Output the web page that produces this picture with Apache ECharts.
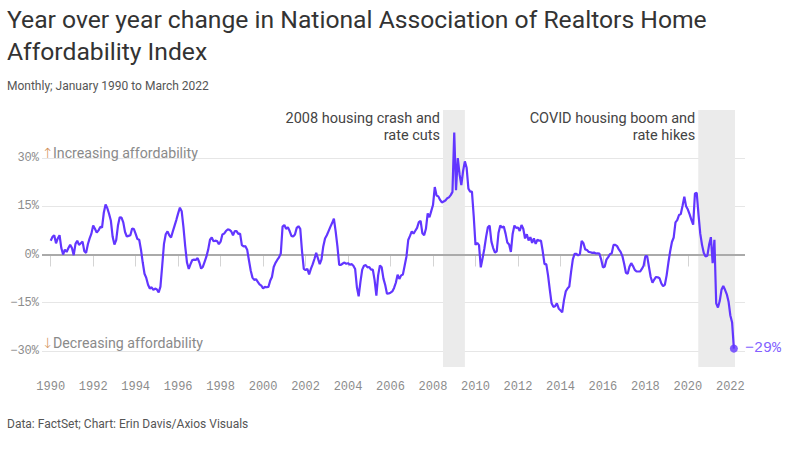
<!DOCTYPE html>
<html><head><meta charset="utf-8">
<script src="https://cdn.jsdelivr.net/npm/echarts@6/dist/echarts.min.js"></script>
<style>html,body{margin:0;padding:0;background:#fff}#c{width:802px;height:458px}</style>
</head><body><div id="c"></div>
<script>
// ---------- data ----------
const titleText = 'Year over year change in National Association of Realtors Home\nAffordability Index';
const subtitleText = 'Monthly; January 1990 to March 2022';
const sourceText = 'Data: FactSet; Chart: Erin Davis/Axios Visuals';
const startYear = 1990; // first month: January 1990
const yoyChange = [
  4.3, 5.5, 6.0, 3.5, 5.0, 6.0, 2.0, 0.0, 1.5, 0.8, 2.0, 3.0,            // 1990
  2.0, -0.2, 3.3, 4.3, 3.0, 3.5, 4.0, 1.0, 0.5, 3.2, 5.0, 6.5,           // 1991
  9.0, 8.0, 6.8, 7.5, 8.6, 8.4, 13.0, 15.6, 14.4, 12.6, 10.5, 5.5,       // 1992
  3.1, 4.5, 9.0, 11.6, 11.5, 10.0, 7.0, 5.6, 5.8, 6.0, 8.1, 7.9,         // 1993
  6.4, 4.8, 4.6, 1.5, -2.5, -6.0, -7.3, -9.4, -10.6, -10.2, -11.0, -10.6,// 1994
  -10.9, -11.8, -10.0, -3.5, 3.3, 6.3, 7.2, 6.0, 5.3, 7.2, 9.0, 10.8,    // 1995
  12.8, 14.6, 13.5, 8.5, 2.5, -2.5, -4.5, -3.0, -1.7, -1.6, -1.7, -1.1,  // 1996
  -2.5, -4.4, -3.8, -2.2, -0.6, 1.6, 4.6, 5.3, 4.1, 4.3, 4.2, 3.2,       // 1997
  4.0, 6.2, 6.5, 7.3, 7.8, 7.7, 7.2, 6.0, 7.3, 7.3, 6.4, 6.5,            // 1998
  2.9, 2.5, 2.6, 1.5, -1.8, -5.0, -7.2, -7.9, -7.7, -8.5, -9.3, -9.7,    // 1999
  -10.6, -10.1, -10.2, -10.1, -8.2, -7.0, -3.9, -2.6, -1.7, -0.9, 0.3, 8.7, // 2000
  9.2, 8.0, 8.5, 7.3, 5.8, 5.6, 6.2, 8.3, 8.8, 8.0, 1.0, -4.5,           // 2001
  -4.9, -4.5, -6.2, -4.5, -3.1, -1.4, 0.5, -1.2, -3.0, -1.5, 2.5, 5.0,   // 2002
  6.0, 7.3, 8.6, 9.8, 11.2, 7.2, 2.5, -3.2, -3.2, -2.8, -2.5, -2.9,      // 2003
  -2.7, -3.2, -3.0, -3.5, -4.5, -10.2, -13.0, -8.5, -4.7, -3.5, -3.3, -4.0, // 2004
  -3.9, -4.7, -4.7, -8.0, -12.8, -6.5, -3.4, -4.0, -7.5, -9.5, -12.2, -12.1, // 2005
  -11.9, -11.5, -10.4, -8.8, -6.3, -7.6, -6.5, -6.2, -3.4, -0.6, 4.5, 5.8, // 2006
  7.2, 6.5, 7.4, 8.3, 10.1, 10.5, 6.6, 6.0, 8.0, 12.8, 11.6, 13.5,       // 2007
  15.4, 21.0, 18.4, 18.1, 17.0, 16.2, 16.5, 16.8, 17.5, 17.8, 18.5, 19.5,// 2008
  38.0, 20.0, 30.0, 25.0, 21.6, 26.0, 29.0, 27.0, 20.5, 19.6, 19.6, 12.0,// 2009
  3.0, 3.6, 2.9, -4.0, -1.2, 1.8, 5.5, 8.5, 9.0, 4.0, 2.0, 0.6,          // 2010
  1.0, 6.7, 9.0, 8.4, 8.7, 6.5, 3.7, 3.1, 0.8, 6.4, 9.0, 8.3,            // 2011
  8.4, 7.3, 9.2, 8.0, 5.0, 6.3, 4.4, 5.4, 3.6, 5.0, 3.3, 4.6,            // 2012
  4.3, 4.3, 1.0, -3.0, -3.0, -6.5, -11.0, -15.2, -16.3, -16.1, -15.2, -16.8, // 2013
  -17.4, -18.0, -14.2, -11.5, -10.6, -10.0, -5.5, -1.5, 0.2, 0.2, -0.3, 0.1, // 2014
  4.2, 3.5, 1.6, 1.4, 0.8, 0.7, 0.5, 0.6, 0.3, 0.4, 0.3, -1.5,           // 2015
  -4.0, -3.8, -1.6, -0.8, 0.1, 0.4, 3.0, 3.0, 2.6, 1.6, 0.8, -0.5,       // 2016
  -2.9, -5.7, -6.0, -3.8, -2.7, -3.6, -4.8, -5.3, -5.3, -5.3, -4.5, -3.5,// 2017
  -0.5, -0.5, -3.8, -7.0, -8.8, -7.8, -7.0, -7.1, -7.4, -9.0, -9.9, -9.4,// 2018
  -6.5, -2.5, 1.0, 3.9, 5.3, 10.0, 10.7, 12.3, 12.6, 15.2, 18.0, 15.0,   // 2019
  14.0, 12.5, 10.8, 9.3, 19.0, 19.2, 12.5, 6.5, 3.0, 0.5, -0.6, -0.4,    // 2020
  3.0, 5.4, -2.7, 4.6, -15.2, -16.5, -14.5, -11.0, -9.8, -11.0, -12.4, -14.7, // 2021
  -19.0, -21.2, -29.3                                                     // 2022 (Jan-Mar)
];
const xTickYears = [1990, 1992, 1994, 1996, 1998, 2000, 2002, 2004, 2006, 2008, 2010, 2012, 2014, 2016, 2018, 2020, 2022];
const yTickValues = [-30, -15, 0, 15, 30];
const shadedLabels = ['2008 housing crash and\nrate cuts', 'COVID housing boom and\nrate hikes'];
const shadedStarts = [2008.47, 2020.49];
const shadedEnds = [2009.5, 2022.22];
const upLabel = 'Increasing affordability';
const downLabel = 'Decreasing affordability';

// ---------- chart ----------
const purple = '#6236ff';
const monoFont = 'Liberation Mono';
const sansFont = 'Roboto';
const seriesData = yoyChange.map((v, i) => [startYear + i / 12, v]);
const last = seriesData[seriesData.length - 1];
const fmtPct = v => (v < 0 ? '\u2212' : '') + Math.abs(v) + '%';
const arrowRich = {
  ar: {color: '#d08c52', fontSize: 14, fontFamily: 'DejaVu Sans', fontWeight: 200, width: 11},
  tx: {color: '#8a8a8a', fontSize: 14.2, fontFamily: sansFont}
};

const chart = echarts.init(document.getElementById('c'), null, {renderer: 'svg'});
chart.setOption({
  animation: false,
  backgroundColor: '#ffffff',
  title: [
    {text: titleText, left: 7, top: 3, padding: 0,
     textStyle: {fontFamily: sansFont, fontSize: 24.7, fontWeight: 'normal', color: '#333333', lineHeight: 32}},
    {text: subtitleText, left: 7, top: 80, padding: 0,
     textStyle: {fontFamily: sansFont, fontSize: 12, fontWeight: 'normal', color: '#555555'}},
    {text: sourceText, left: 7, top: 418, padding: 0,
     textStyle: {fontFamily: sansFont, fontSize: 12, fontWeight: 'normal', color: '#555555'}}
  ],
  grid: {left: 42, right: 57, top: 110, bottom: 59, containLabel: false, outerBoundsMode: 'none'},
  xAxis: {
    type: 'value', min: 1989.59, max: 2022.69, offset: -33,
    axisLine: {show: false}, splitLine: {show: false},
    axisTick: {show: true, customValues: xTickYears, length: 12, lineStyle: {color: '#d4d4d4', width: 1}},
    axisLabel: {customValues: xTickYears, formatter: v => String(v), margin: 15,
      fontFamily: monoFont, fontSize: 12, color: '#8c8c8c'}
  },
  yAxis: {
    type: 'value', min: -45, max: 45, interval: 15,
    axisLine: {show: false}, axisTick: {show: false},
    axisLabel: {customValues: yTickValues, formatter: fmtPct, margin: 3,
      fontFamily: monoFont, fontSize: 12, color: '#8c8c8c'},
    splitLine: {show: true, lineStyle: {color: ['transparent', '#e6e6e6', '#e6e6e6', '#e6e6e6', '#e6e6e6', '#e6e6e6', 'transparent'], width: 1}}
  },
  series: [
    {
      type: 'line', data: [], z: 1, silent: true,
      markArea: {
        silent: true,
        itemStyle: {color: '#ebebeb'},
        label: {show: true, position: [-3, 0], align: 'right', verticalAlign: 'top',
          fontFamily: sansFont, fontSize: 14.5, lineHeight: 17, color: '#444444'},
        data: shadedLabels.map((name, i) => [
          {name: name, xAxis: shadedStarts[i], yAxis: -35},
          {xAxis: shadedEnds[i], yAxis: 45}
        ])
      }
    },
    {
      type: 'line', data: [], z: 2, silent: true,
      markLine: {
        silent: true, symbol: 'none',
        data: [
          {yAxis: 0, lineStyle: {color: '#aaaaaa', width: 2, type: 'solid'}, label: {show: false}},
          {yAxis: 30, lineStyle: {color: 'rgba(0,0,0,0)', width: 0}, label: {show: true, position: 'insideStartTop', distance: [0, -2],
            formatter: () => '{ar|\u2191}{tx|' + upLabel + '}', rich: arrowRich}},
          {yAxis: -30, lineStyle: {color: 'rgba(0,0,0,0)', width: 0}, label: {show: true, position: 'insideStartTop', distance: [0, 1],
            formatter: () => '{ar|\u2193}{tx|' + downLabel + '}', rich: arrowRich}}
        ]
      }
    },
    {
      type: 'line', data: seriesData, z: 5, symbol: 'none', silent: true,
      lineStyle: {color: purple, width: 2.2}, itemStyle: {color: purple}
    },
    {
      type: 'scatter', data: [last], z: 6, symbol: 'circle', symbolSize: 8, silent: true,
      itemStyle: {color: purple},
      label: {show: true, position: 'right', distance: 7, formatter: () => fmtPct(Math.round(last[1])),
        fontFamily: monoFont, fontSize: 15, color: purple}
    }
  ]
});
</script>
</body></html>
